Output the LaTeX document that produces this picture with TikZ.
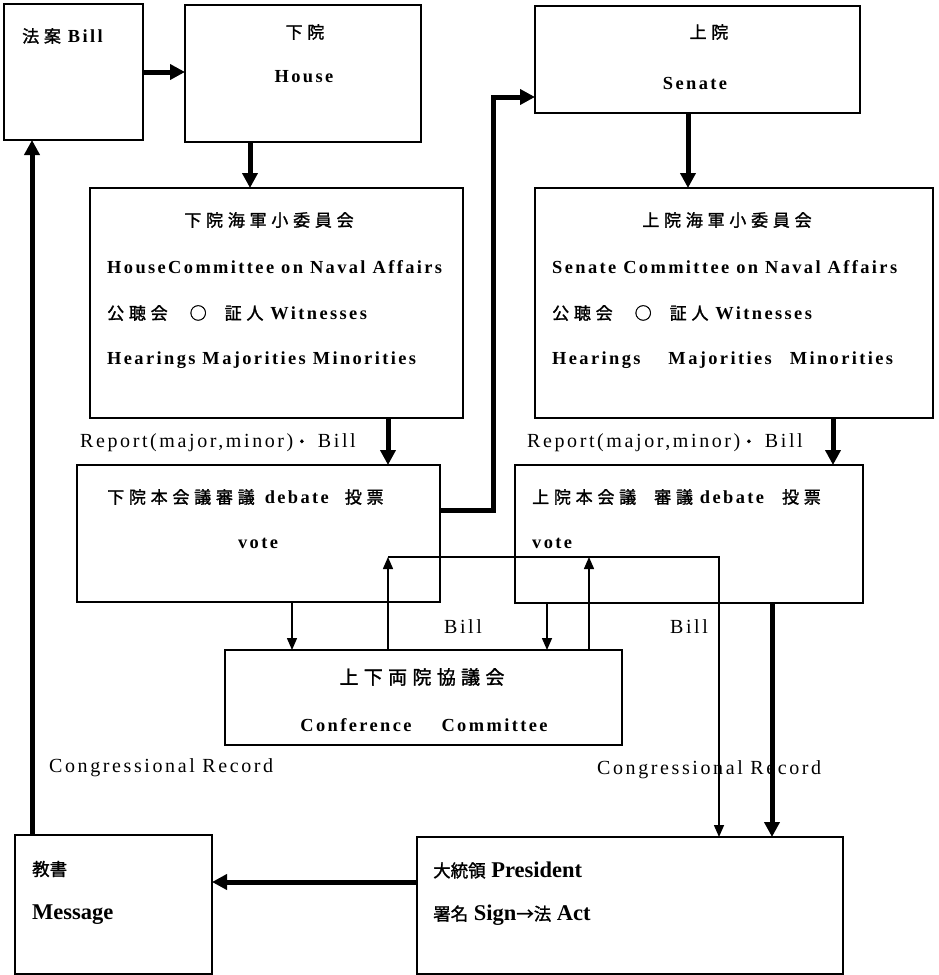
\documentclass[tikz,border=0pt]{standalone}
\usepackage{fontspec}
\setmainfont{Liberation Serif}[LetterSpace=13]
\newfontfamily\plainserif{Liberation Serif}
\newfontfamily\jp{Noto Sans CJK JP}[LetterSpace=28,FakeBold=1.5]
\newfontfamily\jpn{Noto Sans CJK JP}[FakeBold=1.5]
\usetikzlibrary{arrows.meta}
\newcommand\jt[1]{{\jp\mdseries\fontsize{17}{19}\selectfont #1}}
\newcommand\jn[1]{{\jpn\mdseries\fontsize{17.5}{19}\selectfont #1}}
\begin{document}
\begin{tikzpicture}[x=1pt,y=-1pt,
  box/.style={draw, line width=1.8pt, anchor=north west, inner sep=0pt, outer sep=0pt},
  thickarr/.style={line width=5pt, -{Triangle[width=15pt,length=15pt]}},
  thinarr/.style={line width=1.5pt, -{Triangle[width=10pt,length=12pt]}},
  tb/.style={inner sep=0pt, anchor=west, font=\fontsize{18.4}{20}\selectfont\bfseries},
  tbc/.style={tb, anchor=center},
  tr/.style={inner sep=0pt, anchor=west, font=\fontsize{20}{22}\selectfont},
  tp/.style={inner sep=0pt, anchor=west, font=\plainserif\fontsize{22.5}{24}\selectfont\bfseries}]
\useasboundingbox[fill=white] (0,0) rectangle (939,975);

% boxes
\node[box, minimum width=139pt, minimum height=136pt] (bill) at (4,4) {};
\node[box, minimum width=236pt, minimum height=137pt] (house) at (185,5) {};
\node[box, minimum width=325pt, minimum height=107pt] (senate) at (535,6) {};
\node[box, minimum width=373pt, minimum height=230pt] (hcomm) at (90,188) {};
\node[box, minimum width=398pt, minimum height=230pt] (scomm) at (535,188) {};
\node[box, minimum width=363pt, minimum height=137pt] (hfloor) at (77,465) {};
\node[box, minimum width=348pt, minimum height=138pt] (sfloor) at (515,465) {};
\node[box, minimum width=397pt, minimum height=95pt] (conf) at (225,650) {};
\node[box, minimum width=197pt, minimum height=139pt] (msg) at (15,835) {};
\node[box, minimum width=426pt, minimum height=137pt] (pres) at (417,837) {};

% texts
\node[tb] (tbill) at (22,36) {\jt{法案} Bill};
\node[tbc] (thouse1) at (305,32) {\jt{下院}};
\node[tbc] (thouse2) at (304,77) {House};
\node[tbc] (tsen1) at (709,32) {\jt{上院}};
\node[tbc] (tsen2) at (695,83) {Senate};
\node[tbc] (thc1) at (269,220) {\jt{下院海軍小委員会}};
\node[tb] (thc2) at (107,267) {HouseCommittee on Naval Affairs};
\node[tb] (thc3) at (107,313) {\jt{公聴会}\hspace{22pt}\jt{○}\hspace{18pt}\jt{証人} Witnesses};
\node[tb] (thc4) at (107,360) {Hearings Majorities Minorities};
\node[tbc] (tsc1) at (727,220) {\jt{上院海軍小委員会}};
\node[tb] (tsc2) at (552,267) {Senate Committee on Naval Affairs};
\node[tb] (tsc3) at (552,313) {\jt{公聴会}\hspace{22pt}\jt{○}\hspace{18pt}\jt{証人} Witnesses};
\node[tb] (tsc4) at (552,360) {Hearings\hspace{28pt}Majorities\hspace{18pt}Minorities};
\node[tr] (rep1) at (80,443) {Report(major,minor)\jt{・} Bill};
\node[tr] (rep2) at (527,443) {Report(major,minor)\jt{・} Bill};
\node[tb] (thf1) at (107,497) {\jt{下院本会議審議}\hspace{10pt}debate\hspace{16pt}\jt{投票}};
\node[tbc] (thf2) at (258,543) {vote};
\node[tb] (tsf1) at (532,497) {\jt{上院本会議}\hspace{18pt}\jt{審議} debate\hspace{18pt}\jt{投票}};
\node[tb] (tsf2) at (532,543) {vote};
\node[tr, anchor=center] (lb1) at (463,627) {Bill};
\node[tr, anchor=center] (lb2) at (689,627) {Bill};
\node[inner sep=0pt] (tc1) at (422,677) {{\jp\fontsize{19}{21}\selectfont 上下両院協議会}};
\node[tbc] (tc2) at (424,725) {Conference\hspace{30pt}Committee};
\node[tr] (cr1) at (49,768) {Congressional Record};
\node[tr] (cr2) at (597,770) {Congressional Record};
\node[tp] (tm1) at (32,869) {\jn{教書}};
\node[tp] (tm2) at (32,915) {Message};
\node[tp] (tp1) at (433,870) {\jn{大統領} President};
\node[tp] (tp2) at (433,915) {\jn{署名} Sign\jn{→法} Act};

% helper coordinates
\coordinate (xHH) at (250,0);
\coordinate (xSS) at (688,0);
\coordinate (xHF) at (388,0);
\coordinate (xSF) at (833,0);
\coordinate (k1) at (493,510);
\coordinate (k2) at (493,97);
\coordinate (xA) at (292,0);
\coordinate (v1) at (388,557);
\coordinate (v2) at (719,557);
\coordinate (xC) at (547,0);
\coordinate (v3) at (589,557);
\coordinate (xE) at (772,0);
\coordinate (yM) at (0,882);
\coordinate (xM) at (32,0);

% connectors
\draw[thickarr] (bill.east) -- (bill.east -| house.west);
\draw[thickarr] (xHH |- house.south) -- (xHH |- hcomm.north);
\draw[thickarr] (xSS |- senate.south) -- (xSS |- scomm.north);
\draw[thickarr] (xHF |- hcomm.south) -- (xHF |- hfloor.north);
\draw[thickarr] (xSF |- scomm.south) -- (xSF |- sfloor.north);
\draw[thickarr] (hfloor.east |- k1) -- (k1) -- (k2) -- (senate.west |- k2);
\draw[thinarr] (xA |- hfloor.south) -- (xA |- conf.north);
\draw[thinarr] (v1 |- conf.north) -- (v1);
\draw[thinarr] (v1) -- (v2) -- (v2 |- pres.north);
\draw[thinarr] (xC |- sfloor.south) -- (xC |- conf.north);
\draw[thinarr] (v3 |- conf.north) -- (v3);
\draw[thickarr] (xE |- sfloor.south) -- (xE |- pres.north);
\draw[thickarr] (pres.west |- yM) -- (msg.east |- yM);
\draw[thickarr] (xM |- msg.north) -- (xM |- bill.south);
\end{tikzpicture}
\end{document}
